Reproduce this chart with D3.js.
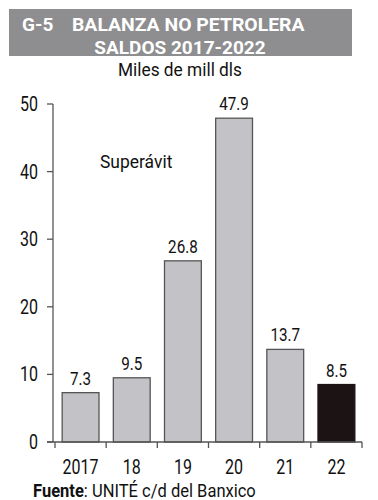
<!DOCTYPE html>
<html><head><meta charset="utf-8">
<script src="https://cdn.jsdelivr.net/npm/d3@7"></script>
<style>body{margin:0;background:#fff}svg{display:block}</style>
</head><body>
<script>
const categories = ["2017","18","19","20","21","22"];
const values = [7.3, 9.5, 26.8, 47.9, 13.7, 8.5];
const yTicks = [0,10,20,30,40,50];

const W=378,H=500;
const svg=d3.select("body").append("svg").attr("width",W).attr("height",H);
const FONT="Roboto, 'DejaVu Sans', sans-serif";

function ctext(g,x,y,str,size,anchor,weight,fill,sx){
  return g.append("text").attr("transform",`translate(${x},${y}) scale(${sx||0.8},1)`)
    .attr("text-anchor",anchor||"middle").attr("font-family",FONT)
    .attr("font-size",size).attr("font-weight",weight||"normal")
    .attr("fill",fill||"#1a1a1a").text(str);
}

// title box
svg.append("rect").attr("x",9).attr("y",9).attr("width",343).attr("height",47).attr("fill","#8e8e90");
ctext(svg,22,30.5,"G-5",19,"start","bold","#fff",1.0);
ctext(svg,72,30.5,"BALANZA NO PETROLERA",19,"start","bold","#fff",1.02);
ctext(svg,180,53.5,"SALDOS 2017-2022",19,"middle","bold","#fff",1.0);

ctext(svg,180,76,"Miles de mill dls",19,"middle","normal","#111",0.91);

const x=d3.scaleBand().domain(categories).range([55,362]).paddingInner(0.28).paddingOuter(0.14);
const y=d3.scaleLinear().domain([0,50]).range([442,104]);

const g=svg.append("g");
// bars
g.selectAll("rect.bar").data(values).join("rect")
  .attr("x",(d,i)=>x(categories[i])).attr("width",x.bandwidth())
  .attr("y",d=>y(d)).attr("height",d=>y(0)-y(d))
  .attr("fill",(d,i)=>i===values.length-1?"#1c1414":"#c3c3c7")
  .attr("stroke",(d,i)=>i===values.length-1?"#1c1414":"#555")
  .attr("stroke-width",1.3);

// value labels
values.forEach((v,i)=>{
  ctext(g,x(categories[i])+x.bandwidth()/2,y(v)-8,d3.format(".1f")(v),19,"middle","normal","#111");
});

// y axis
const ax="#555";
g.append("line").attr("x1",53).attr("x2",53).attr("y1",y(50)).attr("y2",y(0)).attr("stroke",ax).attr("stroke-width",1.3);
yTicks.forEach(t=>{
  g.append("line").attr("x1",47).attr("x2",53).attr("y1",y(t)).attr("y2",y(t)).attr("stroke",ax).attr("stroke-width",1.3);
  ctext(g,38,y(t)+7,String(t),20,"end","normal","#111");
});
// x axis
g.append("line").attr("x1",47).attr("x2",362).attr("y1",y(0)).attr("y2",y(0)).attr("stroke",ax).attr("stroke-width",1.3);
const step=x.step();
const bounds=d3.range(categories.length+1).map(i=>x.range()[0]+i*step);
bounds.forEach(b=>{
  g.append("line").attr("x1",b).attr("x2",b).attr("y1",y(0)).attr("y2",y(0)+6).attr("stroke",ax).attr("stroke-width",1.3);
});
categories.forEach(c=>{
  ctext(g,x(c)+x.bandwidth()/2,474,c,20,"middle","normal","#111");
});

ctext(svg,100,168,"Superávit",18,"start","normal","#111",0.97);

// source
const src=svg.append("text").attr("transform",`translate(33,497) scale(0.87,1)`)
  .attr("font-family",FONT).attr("font-size",19).attr("fill","#111");
src.append("tspan").attr("font-weight","bold").text("Fuente");
src.append("tspan").text(": UNITÉ c/d del Banxico");
</script>
</body></html>
